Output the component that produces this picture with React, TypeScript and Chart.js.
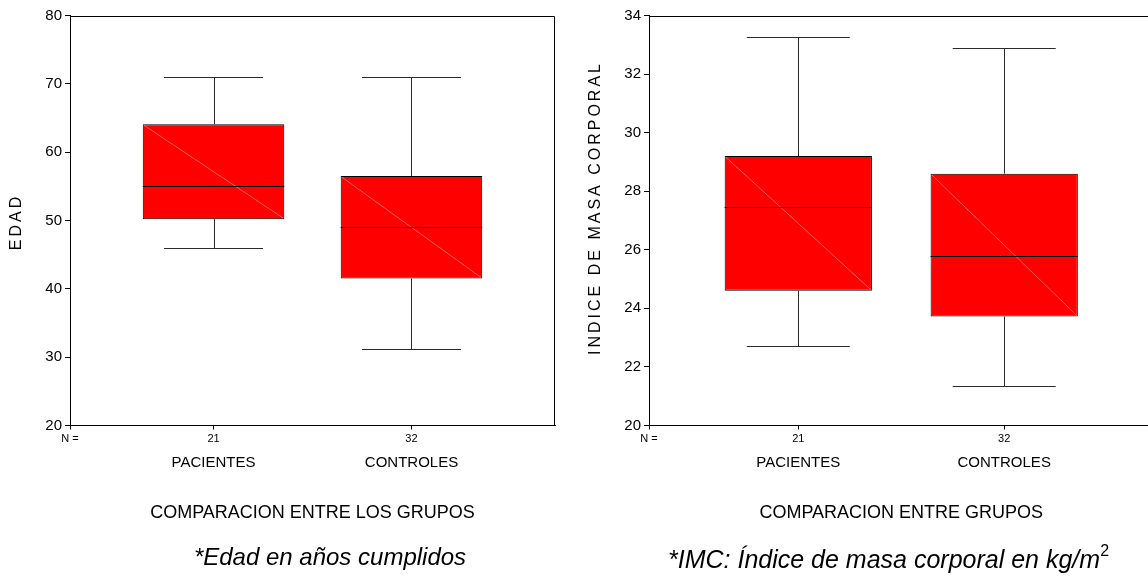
import React, { useEffect, useRef } from 'react';
import { Chart, registerables } from 'chart.js';

Chart.register(...registerables);
Chart.defaults.font.family = '"Liberation Sans", Arial, sans-serif';
Chart.defaults.color = '#000';

// ---------- data ----------
const groups = ['PACIENTES', 'CONTROLES'];
const groupPos = [1, 2];
const groupN = ['21', '32'];
const nLabel = 'N =';

const edadLow = [46, 31.2];
const edadQ1 = [50.2, 41.5];
const edadMedian = [55.1, 49.1];
const edadQ3 = [64.1, 56.5];
const edadHigh = [71, 71];

const imcLow = [22.7, 21.35];
const imcQ1 = [24.6, 23.72];
const imcMedian = [27.45, 25.8];
const imcQ3 = [29.2, 28.6];
const imcHigh = [33.28, 32.88];

const edadAxis = { min: 20, max: 80, step: 10 };
const imcAxis = { min: 20, max: 34, step: 2 };

const xRange = { min: 0.275, max: 2.725 };

const FONT = '"Liberation Sans", Arial, sans-serif';

// ---------- plugins ----------
const boxExtras = {
  id: 'boxExtras',
  afterDatasetsDraw(chart: any) {
    const ctx = chart.ctx;
    const ds = chart.data.datasets[0];
    const meta = chart.getDatasetMeta(0);
    const xs = chart.scales.x2;
    const ys = chart.scales.y;
    ctx.save();
    meta.data.forEach((bar: any, i: number) => {
      const cx = bar.x;
      const half = bar.width / 2;
      const top = Math.min(bar.y, bar.base);
      const bottom = Math.max(bar.y, bar.base);
      // light diagonal
      ctx.strokeStyle = 'rgba(255,175,175,0.9)';
      ctx.lineWidth = 0.6;
      ctx.beginPath();
      ctx.moveTo(cx - half + 1, top + 1);
      ctx.lineTo(cx + half - 1, bottom - 1);
      ctx.stroke();
      // median
      const my = Math.round(ys.getPixelForValue(ds.medians[i])) + 0.5;
      ctx.strokeStyle = '#000';
      ctx.lineWidth = 1;
      ctx.beginPath();
      ctx.moveTo(cx - half, my);
      ctx.lineTo(cx + half, my);
      ctx.stroke();
      // whiskers
      const capHalf = xs.getPixelForValue(groupPos[i] + 0.25) - xs.getPixelForValue(groupPos[i]);
      const wx = Math.round(cx) + 0.5;
      const hi = Math.round(ys.getPixelForValue(ds.highs[i])) + 0.5;
      const lo = Math.round(ys.getPixelForValue(ds.lows[i])) + 0.5;
      ctx.strokeStyle = '#2a2a2a';
      ctx.beginPath();
      ctx.moveTo(wx, top);
      ctx.lineTo(wx, hi);
      ctx.moveTo(cx - capHalf, hi);
      ctx.lineTo(cx + capHalf, hi);
      ctx.moveTo(wx, bottom);
      ctx.lineTo(wx, lo);
      ctx.moveTo(cx - capHalf, lo);
      ctx.lineTo(cx + capHalf, lo);
      ctx.stroke();
    });
    ctx.restore();
  },
};

const frameAndTitle = {
  id: 'frameAndTitle',
  afterDraw(chart: any, _args: any, opts: any) {
    const { ctx, chartArea } = chart;
    ctx.save();
    ctx.strokeStyle = '#000';
    ctx.lineWidth = 1;
    const l = Math.round(chartArea.left) + 0.5;
    const t = Math.round(chartArea.top) + 0.5;
    const r = Math.round(chartArea.right) - 0.5;
    const b = Math.round(chartArea.bottom) - 0.5;
    ctx.beginPath();
    ctx.moveTo(l, t);
    ctx.lineTo(r, t);
    ctx.lineTo(r, b);
    ctx.stroke();
    // spaced y-axis title
    ctx.font = `16px ${FONT}`;
    (ctx as any).letterSpacing = '3px';
    ctx.fillStyle = '#000';
    ctx.textAlign = 'center';
    ctx.textBaseline = 'middle';
    ctx.translate(opts.x, opts.yCenter);
    ctx.rotate(-Math.PI / 2);
    ctx.fillText(opts.text, 0, 0);
    ctx.restore();
  },
};

function makeConfig(p: {
  low: number[]; q1: number[]; median: number[]; q3: number[]; high: number[];
  axis: { min: number; max: number; step: number };
  yTitle: string; yTitleCenter: number; xTitle: string; padRight: number;
}) {
  const nLabels = [nLabel, ...groupN];
  return {
    type: 'bar',
    data: {
      datasets: [
        {
          xAxisID: 'x2',
          yAxisID: 'y',
          data: groupPos.map((x, i) => ({ x, y: [p.q1[i], p.q3[i]] })),
          backgroundColor: '#ff0000',
          borderColor: '#000',
          borderWidth: 1,
          borderSkipped: false,
          categoryPercentage: 1,
          barPercentage: 0.715,
          medians: p.median,
          lows: p.low,
          highs: p.high,
        },
      ],
    },
    options: {
      responsive: false,
      animation: false,
      events: [],
      layout: { padding: { left: 0, top: 15.5, right: p.padRight, bottom: 57.2 } },
      plugins: {
        legend: { display: false },
        tooltip: { enabled: false },
        title: { display: false },
        frameAndTitle: { text: p.yTitle, x: 16.5, yCenter: p.yTitleCenter },
      },
      scales: {
        y: {
          type: 'linear',
          position: 'left',
          min: p.axis.min,
          max: p.axis.max,
          afterFit: (s: any) => { s.width = 70; },
          ticks: { stepSize: p.axis.step, padding: 3, font: { size: 15 }, color: '#000' },
          grid: { display: true, drawOnChartArea: false, drawTicks: true, tickLength: 5, color: '#000' },
          border: { display: true, color: '#000', width: 1 },
          title: { display: false },
        },
        x: {
          type: 'linear',
          position: 'bottom',
          weight: 0,
          min: xRange.min,
          max: xRange.max,
          offset: false,
          afterFit: (s: any) => { s.height = 22; },
          afterBuildTicks: (s: any) => {
            s.ticks = [{ value: xRange.min }, ...groupPos.map((v) => ({ value: v }))];
          },
          ticks: {
            autoSkip: false,
            maxRotation: 0,
            padding: 3,
            font: { size: 11 },
            color: '#000',
            callback: (_v: any, i: number) => nLabels[i],
          },
          grid: { display: true, drawOnChartArea: false, drawTicks: true, tickLength: 4, color: '#000', offset: false },
          border: { display: true, color: '#000', width: 1 },
        },
        x2: {
          type: 'linear',
          position: 'bottom',
          weight: 1,
          min: xRange.min,
          max: xRange.max,
          offset: false,
          afterFit: (s: any) => { s.height = 76.3; },
          afterBuildTicks: (s: any) => {
            s.ticks = groupPos.map((v) => ({ value: v }));
          },
          ticks: {
            autoSkip: false,
            maxRotation: 0,
            padding: 6.5,
            font: { size: 15 },
            color: '#000',
            callback: (_v: any, i: number) => groups[i],
          },
          grid: { display: false, drawTicks: false, offset: false },
          border: { display: false },
          title: {
            display: true,
            text: p.xTitle,
            font: { size: 18 },
            color: '#000',
            padding: { top: 0, bottom: 0 },
          },
        },
      },
    },
    plugins: [boxExtras, frameAndTitle],
  } as any;
}

function BoxChart(props: { config: any; left: number; width: number }) {
  const ref = useRef<HTMLCanvasElement | null>(null);
  useEffect(() => {
    if (!ref.current) return;
    const chart = new Chart(ref.current, props.config);
    return () => chart.destroy();
  }, []);
  return (
    <canvas
      ref={ref}
      width={props.width}
      height={581}
      style={{ position: 'absolute', left: props.left, top: 0, width: props.width, height: 581 }}
    />
  );
}

export default function App() {
  const edadConfig = makeConfig({
    low: edadLow, q1: edadQ1, median: edadMedian, q3: edadQ3, high: edadHigh,
    axis: edadAxis, yTitle: 'EDAD', yTitleCenter: 222,
    xTitle: 'COMPARACION ENTRE LOS GRUPOS', padRight: 19,
  });
  const imcConfig = makeConfig({
    low: imcLow, q1: imcQ1, median: imcMedian, q3: imcQ3, high: imcHigh,
    axis: imcAxis, yTitle: 'INDICE DE MASA CORPORAL', yTitleCenter: 208,
    xTitle: 'COMPARACION ENTRE GRUPOS', padRight: 15.5,
  });
  return (
    <div
      style={{
        position: 'fixed', left: 0, top: 0, width: 1148, height: 581,
        overflow: 'hidden', background: '#fff', fontFamily: FONT, color: '#000',
      }}
    >
      <BoxChart config={edadConfig} left={0} width={574} />
      <BoxChart config={imcConfig} left={579} width={590} />
      <div
        style={{
          position: 'absolute', left: 130, width: 400, top: 544.7, textAlign: 'center',
          fontStyle: 'italic', fontSize: 24, lineHeight: '24px', whiteSpace: 'nowrap',
        }}
      >
        *Edad en años cumplidos
      </div>
      <div
        style={{
          position: 'absolute', left: 668, top: 546.5, textAlign: 'left',
          fontStyle: 'italic', fontSize: 25, lineHeight: '25px', whiteSpace: 'nowrap',
        }}
      >
        *IMC: Índice de masa corporal en kg/m
        <span style={{ fontSize: 16, position: 'relative', top: -12, fontStyle: 'normal' }}>2</span>
      </div>
    </div>
  );
}
